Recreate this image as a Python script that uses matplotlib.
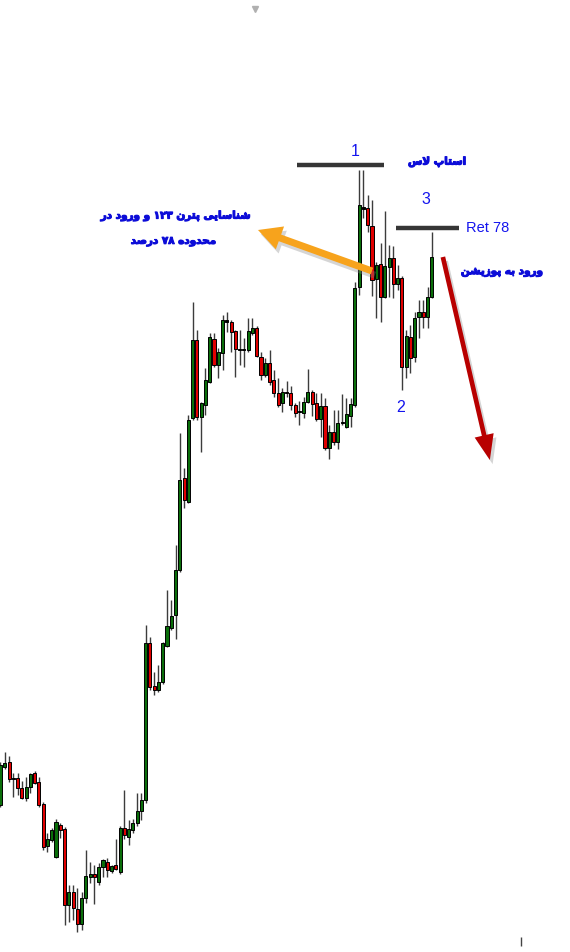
#!/usr/bin/env python3
"""Candlestick chart with a 1-2-3 pattern and a 78% retracement entry."""

import matplotlib
matplotlib.use("Agg")
import matplotlib.pyplot as plt
import matplotlib.patheffects as pe
import numpy as np

# OHLC (price in points)
opens = [195, 233, 238, 221, 222, 212, 202, 213, 227, 218,
         196, 154, 160, 143, 175, 171, 95, 108, 91, 76,
         102, 123, 126, 118, 133, 138, 129, 135, 128, 172,
         163, 170, 177, 189, 200, 357, 314, 310, 318, 354,
         372, 385, 430, 522, 498, 582, 660, 583, 595, 618,
         661, 635, 647, 678, 678, 669, 651, 650, 650, 667,
         672, 643, 625, 637, 620, 607, 597, 608, 607, 595,
         589, 587, 598, 608, 597, 581, 594, 552, 568, 558,
         577, 573, 584, 595, 713, 791, 792, 774, 721, 736,
         703, 733, 742, 716, 722, 633, 663, 643, 683, 688,
         683, 703]
highs = [238, 248, 244, 227, 227, 219, 223, 227, 229, 223,
         198, 167, 172, 181, 177, 173, 115, 115, 112, 108,
         150, 138, 135, 137, 141, 142, 135, 161, 174, 210,
         180, 181, 207, 207, 375, 363, 328, 335, 358, 410,
         400, 455, 567, 532, 585, 698, 670, 598, 632, 667,
         667, 652, 685, 688, 680, 670, 670, 662, 682, 682,
         674, 648, 642, 650, 630, 622, 612, 619, 614, 597,
         599, 603, 631, 610, 607, 607, 602, 575, 590, 590,
         606, 602, 602, 718, 830, 830, 805, 800, 738, 757,
         789, 755, 754, 735, 724, 670, 675, 688, 700, 700,
         713, 768]
lows = [193, 231, 218, 203, 205, 201, 199, 207, 216, 193,
        150, 148, 158, 142, 162, 75, 78, 80, 68, 70,
        97, 117, 96, 115, 123, 123, 127, 130, 126, 161,
        155, 167, 174, 180, 197, 310, 305, 308, 316, 353,
        370, 361, 428, 492, 497, 580, 580, 548, 585, 617,
        633, 622, 630, 668, 648, 623, 635, 633, 648, 665,
        643, 620, 623, 615, 603, 593, 588, 603, 590, 583,
        575, 582, 597, 584, 579, 563, 550, 541, 555, 551,
        575, 572, 573, 593, 705, 782, 768, 704, 682, 678,
        702, 703, 702, 710, 610, 622, 627, 638, 662, 672,
        672, 702]
closes = [235, 237, 221, 222, 212, 202, 213, 226, 217, 195,
          153, 161, 170, 178, 170, 95, 108, 92, 76, 102,
          124, 126, 123, 133, 140, 130, 134, 131, 172, 165,
          171, 177, 189, 200, 357, 313, 310, 318, 357, 374,
          384, 430, 520, 500, 580, 660, 583, 597, 620, 663,
          635, 648, 680, 680, 668, 651, 650, 651, 669, 672,
          644, 625, 637, 618, 607, 595, 608, 607, 595, 587,
          588, 598, 608, 596, 581, 594, 552, 568, 558, 577,
          578, 586, 596, 712, 795, 793, 775, 720, 735, 703,
          734, 742, 716, 722, 633, 664, 642, 682, 688, 683,
          703, 743]

# pattern levels (points)
stop_level = 835
ret78_level = 772

GREEN = "#0a6e0a"
RED = "#e00000"
BLUE = "#1414ee"
FA_BLUE = "#0c0cd8"

FORMS = {
    "ا": ("\uFE8D", "\uFE8E", None, None),
    "ب": ("\uFE8F", "\uFE90", "\uFE91", "\uFE92"),
    "پ": ("\uFB56", "\uFB57", "\uFB58", "\uFB59"),
    "ت": ("\uFE95", "\uFE96", "\uFE97", "\uFE98"),
    "ح": ("\uFEA1", "\uFEA2", "\uFEA3", "\uFEA4"),
    "د": ("\uFEA9", "\uFEAA", None, None),
    "ر": ("\uFEAD", "\uFEAE", None, None),
    "ز": ("\uFEAF", "\uFEB0", None, None),
    "س": ("\uFEB1", "\uFEB2", "\uFEB3", "\uFEB4"),
    "ش": ("\uFEB5", "\uFEB6", "\uFEB7", "\uFEB8"),
    "ص": ("\uFEB9", "\uFEBA", "\uFEBB", "\uFEBC"),
    "ل": ("\uFEDD", "\uFEDE", "\uFEDF", "\uFEE0"),
    "م": ("\uFEE1", "\uFEE2", "\uFEE3", "\uFEE4"),
    "ن": ("\uFEE5", "\uFEE6", "\uFEE7", "\uFEE8"),
    "ه": ("\uFEE9", "\uFEEA", "\uFEEB", "\uFEEC"),
    "و": ("\uFEED", "\uFEEE", None, None),
    "ی": ("\uFBFC", "\uFBFD", "\uFBFE", "\uFBFF"),
    "LA": ("\uFEFB", "\uFEFC", None, None),
}


def shape_fa(text):
    # no shaping/bidi in matplotlib, so do joining + visual order by hand
    toks = []
    i = 0
    while i < len(text):
        if text[i] == "ل" and i + 1 < len(text) and text[i + 1] == "ا":
            toks.append("LA")
            i += 2
        else:
            toks.append(text[i])
            i += 1
    out = []
    for k, t in enumerate(toks):
        if t not in FORMS:
            out.append(t)
            continue
        prev = toks[k - 1] if k > 0 else None
        nxt = toks[k + 1] if k + 1 < len(toks) else None
        join_prev = prev in FORMS and FORMS[prev][2] is not None
        join_next = FORMS[t][2] is not None and nxt in FORMS
        f = FORMS[t]
        if join_prev and join_next:
            out.append(f[3])
        elif join_prev:
            out.append(f[1])
        elif join_next:
            out.append(f[2])
        else:
            out.append(f[0])
    # visual order: reverse, but keep digit runs left-to-right
    runs = []
    for ch in out:
        isdig = ch.isdigit()
        if runs and runs[-1][0] == isdig:
            runs[-1][1].append(ch)
        else:
            runs.append([isdig, [ch]])
    vis = ""
    for isdig, chars in reversed(runs):
        vis += "".join(chars) if isdig else "".join(reversed(chars))
    return vis


def main():
    fig = plt.figure(figsize=(5.7, 9.52), dpi=100)
    ax = fig.add_axes([0, 0, 1, 1])
    ax.set_xlim(-0.117, 133.37)
    ax.set_ylim(48, 1000)
    ax.axis("off")

    x = np.arange(len(opens))
    o = np.array(opens, float)
    h = np.array(highs, float)
    l = np.array(lows, float)
    c = np.array(closes, float)

    ax.vlines(x, l, h, color="#3c3c3c", lw=1.0, zorder=2)
    colors = []
    for oo, cc in zip(o, c):
        if abs(cc - oo) <= 2:
            colors.append("black")
        elif cc > oo:
            colors.append(GREEN)
        else:
            colors.append(RED)
    bottom = np.minimum(o, c)
    height = np.maximum(np.abs(c - o), 1.5)
    ax.bar(x, height, bottom=bottom, width=0.72, color=colors,
           edgecolor="black", linewidth=0.7, zorder=3)

    # stop loss and 78% retracement levels
    ax.hlines(stop_level, 69.4, 89.8, color="#363636", lw=3.2, zorder=4)
    ax.hlines(ret78_level, 92.6, 107.4, color="#363636", lw=3.2, zorder=4)

    num_kw = dict(color=BLUE, fontsize=11.5, fontfamily="Liberation Sans",
                  ha="center", va="center")
    ax.text(83.0, 848, "1", **num_kw)
    ax.text(99.6, 800, "3", **num_kw)
    ax.text(93.8, 592, "2", **num_kw)
    ax.text(109.0, 772, "Ret 78", color=BLUE, fontsize=10.5,
            fontfamily="Liberation Sans", ha="left", va="center")

    bold = [pe.withStroke(linewidth=0.8, foreground=FA_BLUE)]
    fa_kw = dict(color=FA_BLUE, fontfamily="DejaVu Sans", fontweight="bold",
                 fontsize=7.5, ha="center", va="center", path_effects=bold)
    ax.text(102.2, 838, shape_fa("استاپ لاس"), **fa_kw)
    ax.text(117.4, 728, shape_fa("ورود به پوزیشن"), **fa_kw)
    ax.text(41.0, 784, shape_fa("شناسایی پترن ۱۲۳ و ورود در"), **fa_kw)
    ax.text(40.5, 759, shape_fa("محدوده ۷۸ درصد"), **fa_kw)

    shadow = [pe.SimplePatchShadow(offset=(2, -3), shadow_rgbFace="#888888", alpha=0.35),
              pe.Normal()]
    a1 = ax.annotate("", xy=(60.3, 770), xytext=(87.0, 729),
                     arrowprops=dict(arrowstyle="simple,head_length=1.2,head_width=1.25,tail_width=0.36",
                                     mutation_scale=14, fc="#f7a31c", ec="none",
                                     shrinkA=0, shrinkB=0), zorder=5)
    a1.arrow_patch.set_path_effects(shadow)
    a2 = ax.annotate("", xy=(114.6, 540), xytext=(103.6, 743),
                     arrowprops=dict(arrowstyle="simple,head_length=1.3,head_width=1.0,tail_width=0.24",
                                     mutation_scale=14, fc="#b80000", ec="none",
                                     shrinkA=0, shrinkB=0), zorder=5)
    a2.arrow_patch.set_path_effects(shadow)

    # small chart-shift marker at the top and an axis tick at the bottom
    ax.plot([59.6], [991], marker="v", ms=4, color="#b0b0b0", zorder=5)
    ax.vlines(121.8, 54, 63, color="#444444", lw=1.0)

    fig.savefig("out.png", dpi=100, facecolor="white")
    plt.close(fig)


if __name__ == "__main__":
    main()
